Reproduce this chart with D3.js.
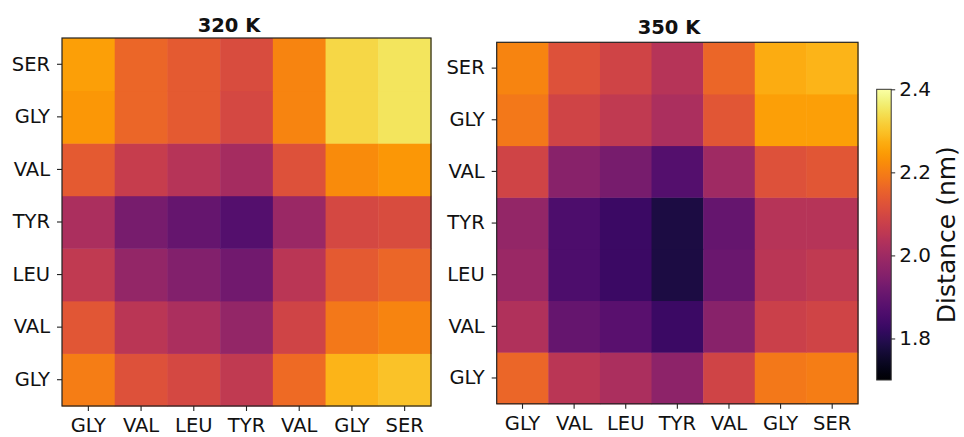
<!DOCTYPE html>
<html>
<head>
<meta charset="utf-8">
<script src="https://cdn.jsdelivr.net/npm/d3@7"></script>
<style>
  body { margin: 0; background: #fff; }
  svg { display: block; font-family: "DejaVu Sans", sans-serif; }
</style>
</head>
<body>
<svg id="chart" width="964" height="437"></svg>
<script>
// Residue sequence along each axis (y listed bottom to top)
const xResidues = ["GLY", "VAL", "LEU", "TYR", "VAL", "GLY", "SER"];
const yResidues = ["GLY", "VAL", "LEU", "TYR", "VAL", "GLY", "SER"];
const panelTitles = ["320 K", "350 K"];

// Mean inter-residue distance (nm); rows run bottom (GLY) to top (SER)
const dist320 = [
  [2.20, 2.12, 2.10, 2.06, 2.17, 2.28, 2.30],
  [2.13, 2.05, 2.02, 1.98, 2.09, 2.19, 2.21],
  [2.06, 1.98, 1.95, 1.92, 2.05, 2.14, 2.16],
  [2.02, 1.93, 1.90, 1.87, 1.99, 2.10, 2.11],
  [2.14, 2.07, 2.04, 2.01, 2.12, 2.22, 2.24],
  [2.24, 2.16, 2.14, 2.10, 2.21, 2.33, 2.35],
  [2.25, 2.16, 2.14, 2.11, 2.21, 2.33, 2.35]
];
const dist350 = [
  [2.16, 2.05, 2.02, 1.97, 2.09, 2.19, 2.20],
  [2.03, 1.90, 1.88, 1.83, 1.96, 2.08, 2.09],
  [1.99, 1.86, 1.83, 1.78, 1.91, 2.05, 2.06],
  [1.98, 1.86, 1.83, 1.78, 1.90, 2.04, 2.04],
  [2.09, 1.96, 1.93, 1.87, 2.00, 2.12, 2.13],
  [2.19, 2.09, 2.06, 2.02, 2.13, 2.25, 2.25],
  [2.21, 2.12, 2.09, 2.04, 2.16, 2.27, 2.28]
];

const colorDomain = [1.7, 2.4];
const colorTicks = [1.8, 2.0, 2.2, 2.4];
const colorLabel = "Distance (nm)";

const svg = d3.select("#chart");
const color = d3.scaleSequential(d3.interpolateInferno).domain(colorDomain);

const panels = [
  { data: dist320, title: panelTitles[0], x0: 62, x1: 431, y0: 38, y1: 406, tx: 229, ty: 32 },
  { data: dist350, title: panelTitles[1], x0: 496.7, x1: 858, y0: 42.3, y1: 403.8, tx: 669, ty: 34 }
];

const idx = d3.range(xResidues.length);

panels.forEach(p => {
  const x = d3.scaleBand().domain(idx).range([p.x0, p.x1]);
  const y = d3.scaleBand().domain(idx).range([p.y1, p.y0]);
  const g = svg.append("g");

  const cells = [];
  p.data.forEach((row, ri) => row.forEach((v, ci) => cells.push({ ri, ci, v })));

  g.selectAll("rect.cell").data(cells).join("rect")
    .attr("class", "cell")
    .attr("x", d => x(d.ci))
    .attr("y", d => y(d.ri))
    .attr("width", x.bandwidth() + 0.5)
    .attr("height", y.bandwidth() + 0.5)
    .attr("fill", d => color(d.v));

  // frame
  g.append("rect")
    .attr("x", p.x0).attr("y", p.y0)
    .attr("width", p.x1 - p.x0).attr("height", p.y1 - p.y0)
    .attr("fill", "none").attr("stroke", "#222").attr("stroke-width", 1.2);

  const xAxis = g.append("g")
    .attr("transform", `translate(0,${p.y1})`)
    .call(d3.axisBottom(x).tickSize(5).tickPadding(7).tickFormat(i => xResidues[i]));
  const yAxis = g.append("g")
    .attr("transform", `translate(${p.x0},0)`)
    .call(d3.axisLeft(y).tickSize(5).tickPadding(7).tickFormat(i => yResidues[i]));

  [xAxis, yAxis].forEach(a => {
    a.select(".domain").remove();
    a.selectAll(".tick line").attr("stroke", "#222").attr("stroke-width", 1.1);
    a.selectAll(".tick text").attr("fill", "#111").style("font-size", "19.5px")
      .style("font-family", "'DejaVu Sans', sans-serif");
  });

  g.append("text")
    .attr("x", p.tx).attr("y", p.ty)
    .attr("text-anchor", "middle")
    .style("font-size", "19.5px").style("font-weight", "bold")
    .attr("fill", "#111")
    .text(p.title);
});

// Colorbar
const cb = { x: 876.7, w: 14.5, y0: 89.3, y1: 380 };
const cScale = d3.scaleLinear().domain(colorDomain).range([cb.y1, cb.y0]);
const defs = svg.append("defs");
const grad = defs.append("linearGradient").attr("id", "cbGrad")
  .attr("x1", 0).attr("y1", 1).attr("x2", 0).attr("y2", 0);
d3.range(0, 1.0001, 0.02).forEach(t => {
  grad.append("stop").attr("offset", t).attr("stop-color", d3.interpolateInferno(t));
});
svg.append("rect")
  .attr("x", cb.x).attr("y", cb.y0).attr("width", cb.w).attr("height", cb.y1 - cb.y0)
  .attr("fill", "url(#cbGrad)").attr("stroke", "#333").attr("stroke-width", 1);

const cAxis = svg.append("g")
  .attr("transform", `translate(${cb.x + cb.w},0)`)
  .call(d3.axisRight(cScale).tickValues(colorTicks).tickSize(4).tickPadding(4).tickFormat(d3.format(".1f")));
cAxis.select(".domain").remove();
cAxis.selectAll(".tick line").attr("stroke", "#222");
cAxis.selectAll(".tick text").attr("fill", "#111").style("font-size", "20px")
  .style("font-family", "'DejaVu Sans', sans-serif");

svg.append("text")
  .attr("transform", `translate(955,${(cb.y0 + cb.y1) / 2}) rotate(-90)`)
  .attr("text-anchor", "middle")
  .style("font-size", "25px")
  .attr("fill", "#111")
  .text(colorLabel);
</script>
</body>
</html>
